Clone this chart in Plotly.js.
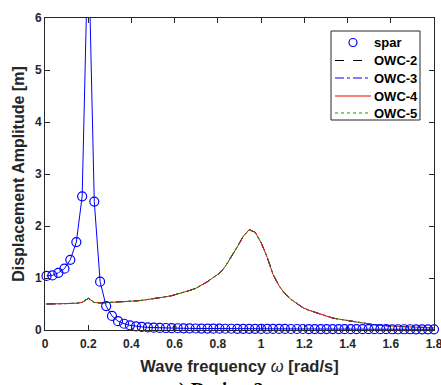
<!DOCTYPE html>
<html>
<head>
<meta charset="utf-8">
<script src="https://cdn.plot.ly/plotly-3.0.1.min.js"></script>
<style>html,body{margin:0;padding:0;background:#fff;overflow:hidden}#chart{width:441px;height:385px}</style>
</head>
<body>
<div id="chart"></div>
<script>
// Wave frequency grid [rad/s]
const freq = [0.007,0.034,0.062,0.090,0.117,0.145,0.172,0.200,0.228,0.255,0.283,0.310,0.338,0.366,0.393,0.421,0.448,0.476,0.503,0.531,0.559,0.586,0.614,0.641,0.669,0.697,0.724,0.752,0.779,0.807,0.834,0.862,0.890,0.917,0.945,0.972,1.000,1.028,1.055,1.083,1.110,1.138,1.166,1.193,1.221,1.248,1.276,1.303,1.331,1.359,1.386,1.414,1.441,1.469,1.497,1.524,1.552,1.579,1.607,1.634,1.662,1.690,1.717,1.745,1.772,1.800];

// Spar displacement amplitude [m]
const spar = [1.04,1.05,1.10,1.18,1.35,1.69,2.57,7.6,2.47,0.93,0.46,0.27,0.17,0.12,0.09,0.07,0.06,0.05,0.045,0.04,0.038,0.036,0.034,0.032,0.03,0.029,0.028,0.027,0.026,0.025,0.024,0.024,0.023,0.023,0.022,0.022,0.021,0.021,0.02,0.02,0.02,0.019,0.019,0.019,0.018,0.018,0.018,0.017,0.017,0.017,0.016,0.016,0.016,0.016,0.015,0.015,0.015,0.015,0.014,0.014,0.014,0.014,0.013,0.013,0.013,0.013];

// OWC configurations (nearly identical responses)
const owc2 = [0.50,0.50,0.50,0.505,0.51,0.515,0.53,0.61,0.53,0.52,0.525,0.53,0.535,0.54,0.55,0.56,0.57,0.585,0.60,0.62,0.64,0.66,0.69,0.72,0.76,0.80,0.86,0.93,1.01,1.09,1.22,1.40,1.60,1.80,1.93,1.88,1.68,1.40,1.07,0.85,0.70,0.59,0.50,0.43,0.38,0.34,0.30,0.26,0.23,0.21,0.19,0.17,0.15,0.135,0.12,0.10,0.09,0.08,0.075,0.07,0.065,0.06,0.055,0.05,0.045,0.04];
const owc3 = owc2.slice();
const owc4 = owc2.slice();
const owc5 = owc2.slice();

const xTicks = [0,0.2,0.4,0.6,0.8,1,1.2,1.4,1.6,1.8];
const xTickText = ['0','0.2','0.4','0.6','0.8','1','1.2','1.4','1.6','1.8'];
const yTicks = [0,1,2,3,4,5,6];

// legend entries
const legNames = ['spar','OWC-2','OWC-3','OWC-4','OWC-5'];
const legColors = ['#0000ff','#000000','#0000ff','#ff0000','#00a000'];
const legDash = [null,'dash','dashdot','solid','dot'];

const lw = 1;
const traces = [
  {x: freq, y: spar, mode: 'lines', line: {color: '#0000ff', width: lw}},
  {x: freq, y: owc2, name: 'OWC-2', mode: 'lines', line: {color: legColors[1], width: lw, dash: 'dash'}},
  {x: freq, y: owc3, name: 'OWC-3', mode: 'lines', line: {color: legColors[2], width: lw, dash: 'dashdot'}},
  {x: freq, y: owc4, name: 'OWC-4', mode: 'lines', line: {color: legColors[3], width: lw}},
  {x: freq, y: owc5, name: 'OWC-5', mode: 'lines', line: {color: legColors[4], width: lw, dash: 'dot'}},
  {x: freq, y: spar, name: 'spar', mode: 'markers', cliponaxis: false,
   marker: {symbol: 'circle-open', size: 9, color: '#0000ff', line: {width: 1.2, color: '#0000ff'}}}
];

// plot-area pixel frame used to place the hand-built legend
const L = 45, R = 434, T = 18, B = 330;
const px = v => (v - L) / (R - L);
const py = v => (B - v) / (B - T);

const shapes = [{type: 'rect', xref: 'paper', yref: 'paper', x0: px(331), x1: px(420), y0: py(31), y1: py(120),
  line: {color: '#262626', width: 1}, fillcolor: '#ffffff', layer: 'above'}];
const annotations = [];
const rowY = [42.5, 60.5, 78, 96, 113];
legNames.forEach((n, i) => {
  if (i === 0) {
    shapes.push({type: 'circle', xref: 'paper', yref: 'paper', x0: px(349), x1: px(357), y0: py(rowY[i] - 4), y1: py(rowY[i] + 4),
      line: {color: legColors[i], width: 1.2}, layer: 'above'});
  } else {
    shapes.push({type: 'line', xref: 'paper', yref: 'paper', x0: px(335), x1: px(371), y0: py(rowY[i]), y1: py(rowY[i]),
      line: {color: legColors[i], width: 1, dash: legDash[i]}, layer: 'above'});
  }
  annotations.push({text: '<b>' + n + '</b>', xref: 'paper', yref: 'paper', x: px(372), y: py(rowY[i]),
    xanchor: 'left', yanchor: 'middle', showarrow: false,
    font: {family: 'Arial, "Liberation Sans", sans-serif', size: 13, color: '#000000'}});
});
annotations.push({
  text: 'a) Design 2', xref: 'paper', yref: 'paper', x: 0.44, y: py(377.5),
  xanchor: 'center', yanchor: 'top', showarrow: false,
  font: {family: '"Liberation Serif", "DejaVu Serif", serif', size: 20, weight: 'bold', color: '#000000'}
});

const fontFam = 'Arial, "Liberation Sans", Helvetica, sans-serif';
const layout = {
  width: 441, height: 385,
  margin: {l: L, r: 441 - R, t: T, b: 385 - B},
  paper_bgcolor: '#ffffff', plot_bgcolor: '#ffffff',
  font: {family: fontFam, color: '#262626', size: 12},
  showlegend: false,
  xaxis: {
    range: [0, 1.8], tickvals: xTicks, ticktext: xTickText,
    ticks: 'inside', ticklen: 5, tickcolor: '#262626', tickwidth: 1,
    showline: true, linecolor: '#262626', linewidth: 1, mirror: 'ticks',
    showgrid: false, zeroline: false, ticklabeloverflow: 'allow', ticklabelstandoff: 3,
    tickfont: {size: 12, weight: 'bold', color: '#262626'},
    title: {text: 'Wave frequency <i style="font-weight:normal">ω</i> [rad/s]', font: {size: 16.5, weight: 'bold', color: '#262626'}, standoff: 10}
  },
  yaxis: {
    range: [0, 6], tickvals: yTicks,
    ticks: 'inside', ticklen: 5, tickcolor: '#262626', tickwidth: 1,
    showline: true, linecolor: '#262626', linewidth: 1, mirror: 'ticks',
    showgrid: false, zeroline: false,
    tickfont: {size: 12, weight: 'bold', color: '#262626'},
    title: {text: 'Displacement Amplitude [m]', font: {size: 16, weight: 'bold', color: '#262626'}, standoff: 6}
  },
  shapes: shapes,
  annotations: annotations
};

Plotly.newPlot('chart', traces, layout, {displayModeBar: false, staticPlot: true});
</script>
</body>
</html>
